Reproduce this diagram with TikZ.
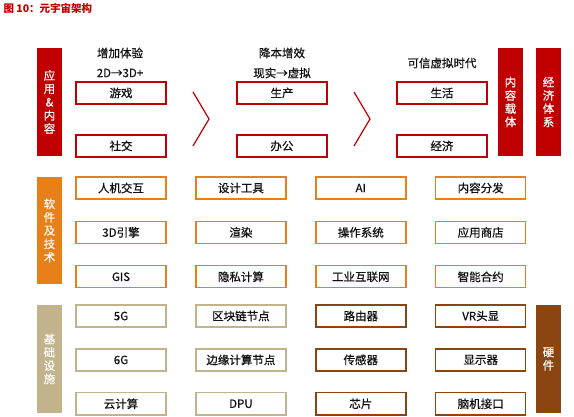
\documentclass[tikz,border=0pt]{standalone}
\usepackage{fontspec}
\setmainfont{Noto Sans CJK SC}[UprightFeatures={FakeBold=0.6}]
\usepackage{tikz}
\usetikzlibrary{positioning}
\definecolor{cRed}{HTML}{C00000}
\definecolor{cOrange}{HTML}{E8801A}
\definecolor{cTan}{HTML}{C2B38C}
\definecolor{cBrown}{HTML}{8B4513}
\definecolor{cText}{HTML}{111111}

\begin{document}
\begin{tikzpicture}[
  x=1pt, y=-1pt,
  node distance=28.5pt,
  every node/.style={font=\fontsize{11.5}{13}\selectfont, text=cText},
  box/.style={rectangle, draw=#1, line width=1.4pt, fill=white,
              minimum width=90pt, minimum height=22pt, inner sep=0pt},
  bar/.style={rectangle, fill=#1, minimum width=25pt, minimum height=108pt,
              inner sep=0pt, align=center, text=white,
              font=\fontsize{11.5}{13.3}\selectfont},
  caption/.style={font=\fontsize{11.5}{13}\selectfont, text=cText},
  chevron/.style={draw=cRed, line width=1.2pt, line join=miter},
]
\useasboundingbox (0,0) rectangle (574,417);

% Title
\node[anchor=west, text=cRed, font=\fontsize{10.5}{12}\bfseries] (title) at (0,8)
  {图 10：元宇宙架构};

% Side bars
\node[bar=cRed] (app) at (49.5,102) {应\\用\\\&\\内\\容};
\node[bar=cRed] (carrier) at (510.5,102) {内\\容\\载\\体};
\node[bar=cRed] (economy) at (548.5,102) {经\\济\\体\\系};
\node[bar=cOrange, minimum height=107pt] (tech) at (49.5,230.5) {软\\件\\及\\技\\术};
\node[bar=cTan] (infra) at (49.5,359) {基\\础\\设\\施};
\node[bar=cBrown] (hard) at (548.5,359) {硬\\件};

% Applications
\node[box=cRed] (game) at (121,93) {游戏};
\node[box=cRed, below=29.5pt of game] (social) {社交};
\node[box=cRed] (produce) at (282,93) {生产};
\node[box=cRed, below=29.5pt of produce] (office) {办公};
\node[box=cRed] (life) at (442,93) {生活};
\node[box=cRed, below=29.5pt of life] (econ) {经济};

% Captions
\node[caption] (cap1) at (120,53) {增加体验};
\node[caption] (cap1b) at (120,73) {2D→3D+};
\node[caption] (cap2) at (282,53) {降本增效};
\node[caption] (cap2b) at (282,73) {现实→虚拟};
\node[caption] (cap3) at (442,63) {可信虚拟时代};

% Chevrons
\draw[chevron] (193,92) -- (209,119) -- (193,146);
\draw[chevron] (354,92) -- (370,119) -- (354,146);

% Software & technology
\node[box=cOrange] (hci) at (121,188) {人机交互};
\node[box=cOrange, below=21pt of hci] (engine) {3D引擎};
\node[box=cOrange, below=21pt of engine] (gis) {GIS};
\node[box=cOrange, right=of hci] (design) {设计工具};
\node[box=cOrange, right=of engine] (render) {渲染};
\node[box=cOrange, right=of gis] (privacy) {隐私计算};
\node[box=cOrange, right=of design] (ai) {AI};
\node[box=cOrange, right=of render] (os) {操作系统};
\node[box=cOrange, right=of privacy] (iiot) {工业互联网};
\node[box=cOrange, right=of ai] (dist) {内容分发};
\node[box=cOrange, right=of os] (store) {应用商店};
\node[box=cOrange, right=of iiot] (contract) {智能合约};

% Infrastructure
\node[box=cTan] (g5) at (121,316) {5G};
\node[box=cTan, below=20.5pt of g5] (g6) {6G};
\node[box=cTan, below=20.5pt of g6] (cloud) {云计算};
\node[box=cTan, right=of g5] (chain) {区块链节点};
\node[box=cTan, right=of g6] (edge) {边缘计算节点};
\node[box=cTan, right=of cloud] (dpu) {DPU};

% Hardware
\node[box=cBrown, right=of chain] (router) {路由器};
\node[box=cBrown, right=of edge] (sensor) {传感器};
\node[box=cBrown, right=of dpu] (chip) {芯片};
\node[box=cBrown, right=of router] (vr) {VR头显};
\node[box=cBrown, right=of sensor] (display) {显示器};
\node[box=cBrown, right=of chip] (bci) {脑机接口};

\end{tikzpicture}
\end{document}
